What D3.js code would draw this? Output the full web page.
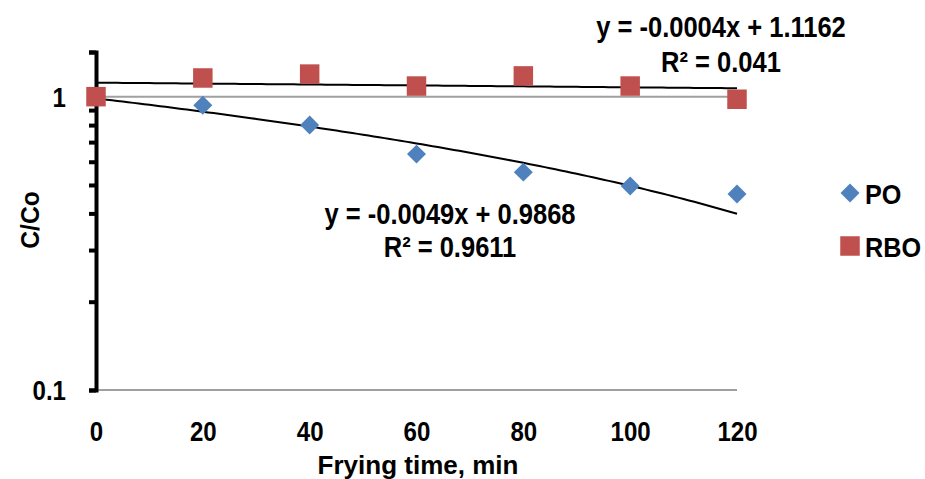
<!DOCTYPE html>
<html>
<head>
<meta charset="utf-8">
<script src="https://cdn.jsdelivr.net/npm/d3@7"></script>
<style>
  html, body { margin: 0; padding: 0; background: #fff; }
  svg text { font-family: "Liberation Sans", Arial, sans-serif; font-weight: bold; fill: #000; }
</style>
</head>
<body>
<svg id="chart" width="925" height="479"></svg>
<script>
// ---- data ----
const times = [0, 20, 40, 60, 80, 100, 120];
const poValues = [1.0, 0.935, 0.80, 0.637, 0.553, 0.496, 0.466];
const rboValues = [1.0, 1.158, 1.194, 1.087, 1.177, 1.087, 0.98];
const seriesNames = ["PO", "RBO"];
const poTrend = [-0.0049, 0.9868];     // slope, intercept
const rboTrend = [-0.0004, 1.1162];
const poLabels = ["y = -0.0049x + 0.9868", "R\u00B2 = 0.9611"];
const rboLabels = ["y = -0.0004x + 1.1162", "R\u00B2 = 0.041"];
const xTicks = [0, 20, 40, 60, 80, 100, 120];
const yMinorTicks = [0.1, 0.2, 0.3, 0.4, 0.5, 0.6, 0.7, 0.8, 0.9, 1];
const yLabelTicks = [0.1, 1];
const yTop = 1.42;

// ---- layout ----
const svg = d3.select("#chart");
const x = d3.scaleLinear().domain([0, 120]).range([96, 737]);
const y = d3.scaleLog().domain([0.1, yTop]).range([390, 52]);
const blue = "#4F81BD", red = "#C0504D";
const cond = 0.86;

// gridlines
svg.append("g").selectAll("line").data(yLabelTicks).join("line")
  .attr("x1", x(0)).attr("x2", x(120))
  .attr("y1", d => y(d)).attr("y2", d => y(d))
  .attr("stroke", "#A0A0A0").attr("stroke-width", 2);

// y axis
const yAxis = d3.axisLeft(y).tickValues(yMinorTicks.concat([yTop])).tickSize(7).tickFormat("");
const gy = svg.append("g").attr("transform", `translate(${x(0)},0)`).call(yAxis);
gy.select(".domain").attr("stroke", "#000").attr("stroke-width", 4);
gy.selectAll(".tick line").attr("stroke", "#000").attr("stroke-width", 4);

// y labels
svg.append("g").selectAll("text").data(yLabelTicks).join("text")
  .attr("text-anchor", "end")
  .attr("font-size", 28)
  .attr("transform", d => `translate(66,${y(d) + 10}) scale(${cond},1)`)
  .text(d => d === 1 ? "1" : "0.1");

// x labels
const xAxis = d3.axisBottom(x).tickValues(xTicks).tickSize(0).tickPadding(0);
const gx = svg.append("g").attr("transform", `translate(0,390)`).call(xAxis);
gx.select(".domain").remove();
gx.selectAll(".tick text")
  .attr("font-size", 28).attr("y", 0).attr("dy", 0)
  .attr("font-family", "Liberation Sans, Arial, sans-serif").attr("font-weight", "bold").attr("fill", "#000")
  .attr("transform", `translate(0,51) scale(${cond},1)`);

// axis titles
svg.append("text").attr("x", 418).attr("y", 474).attr("text-anchor", "middle")
  .attr("font-size", 26)
  .text("Frying time, min");
svg.append("text").attr("text-anchor", "middle").attr("font-size", 26)
  .attr("transform", `translate(39,220) rotate(-90) scale(0.95,1)`)
  .text("C/Co");

// trendlines
const line = d3.line().x(d => x(d[0])).y(d => y(d[1]));
function trendPts(coef) { return d3.range(0, 121, 1).map(t => [t, coef[0] * t + coef[1]]); }
svg.append("path").attr("d", line(trendPts(rboTrend))).attr("fill", "none").attr("stroke", "#000").attr("stroke-width", 2);
svg.append("path").attr("d", line(trendPts(poTrend))).attr("fill", "none").attr("stroke", "#000").attr("stroke-width", 2);

// markers
const diamond = d3.symbol().type(d3.symbolSquare).size(180);
const square = d3.symbol().type(d3.symbolSquare).size(380);
svg.append("g").selectAll("path").data(times.map((t, i) => [t, poValues[i]])).join("path")
  .attr("d", diamond).attr("fill", blue)
  .attr("transform", d => `translate(${x(d[0])},${y(d[1])}) rotate(45)`);
svg.append("g").selectAll("path").data(times.map((t, i) => [t, rboValues[i]])).join("path")
  .attr("d", square).attr("fill", red)
  .attr("transform", d => `translate(${x(d[0])},${y(d[1])})`);

// trend labels
function labelBlock(lines, cx, y1, y2) {
  [y1, y2].forEach((yy, i) => {
    svg.append("text").attr("text-anchor", "middle").attr("font-size", 29)
      .attr("transform", `translate(${cx},${yy}) scale(0.88,1)`).text(lines[i]);
  });
}
labelBlock(rboLabels, 721, 37, 72);
labelBlock(poLabels, 450, 224, 257);

// legend
const leg = svg.append("g");
leg.append("path").attr("d", diamond).attr("fill", blue).attr("transform", "translate(850,193) rotate(45)");
leg.append("path").attr("d", square).attr("fill", red).attr("transform", "translate(850,246)");
leg.append("text").attr("font-size", 28).attr("transform", `translate(865,204) scale(0.9,1)`).text(seriesNames[0]);
leg.append("text").attr("font-size", 28).attr("transform", `translate(865,257) scale(0.9,1)`).text(seriesNames[1]);
</script>
</body>
</html>
